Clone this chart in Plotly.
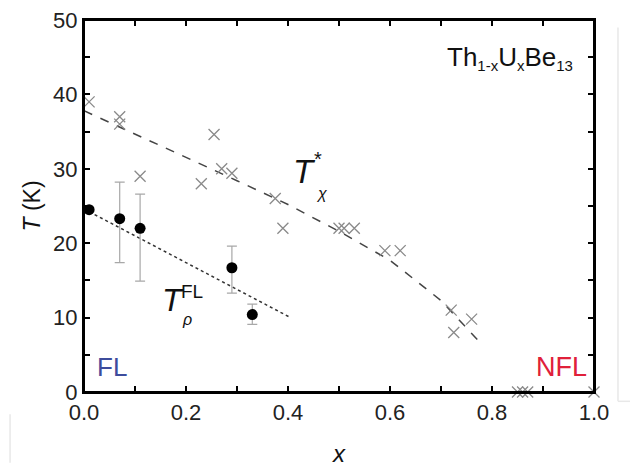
import plotly.graph_objects as go

# T_chi* data (crosses)
x_chi = [0.01, 0.07, 0.07, 0.11, 0.23, 0.255, 0.27, 0.29, 0.375, 0.39,
         0.50, 0.51, 0.53, 0.59, 0.62, 0.72, 0.725, 0.76,
         0.85, 0.86, 0.87, 1.0]
T_chi = [39.0, 37.0, 36.0, 29.0, 28.0, 34.6, 30.0, 29.4, 26.0, 22.0,
         22.0, 22.0, 22.0, 19.0, 19.0, 11.0, 8.0, 9.8,
         0.0, 0.0, 0.0, 0.0]

# T_rho^FL data (filled circles with error bars)
x_rho = [0.01, 0.07, 0.11, 0.29, 0.33]
T_rho = [24.5, 23.3, 22.0, 16.7, 10.4]
err_plus = [0.0, 4.9, 4.6, 2.9, 1.4]
err_minus = [0.0, 5.9, 7.1, 3.4, 1.3]

# guide lines
x_chi_line = [0.0, 0.1, 0.2, 0.3, 0.4, 0.5, 0.6, 0.7, 0.78]
T_chi_line = [37.8, 34.7, 31.6, 28.4, 25.2, 21.6, 17.7, 12.3, 6.4]
x_rho_line = [0.0, 0.405]
T_rho_line = [24.6, 10.0]

# tick marks (every minor step) and their labels
x_tickvals = [0.0, 0.1, 0.2, 0.3, 0.4, 0.5, 0.6, 0.7, 0.8, 0.9, 1.0]
x_ticktext = ["0.0", "", "0.2", "", "0.4", "", "0.6", "", "0.8", "", "1.0"]
y_tickvals = [0, 5, 10, 15, 20, 25, 30, 35, 40, 45, 50]
y_ticktext = ["0", "", "10", "", "20", "", "30", "", "40", "", "50"]

FONT = "Liberation Sans, Arial, sans-serif"

fig = go.Figure()

fig.add_trace(go.Scatter(x=x_chi_line, y=T_chi_line, mode="lines",
                         line=dict(color="#444", width=1.5, dash="dash"),
                         showlegend=False, hoverinfo="skip"))
fig.add_trace(go.Scatter(x=x_rho_line, y=T_rho_line, mode="lines",
                         line=dict(color="#333", width=1.5, dash="dot"),
                         showlegend=False, hoverinfo="skip"))

fig.add_trace(go.Scatter(x=x_chi, y=T_chi, mode="markers",
                         marker=dict(symbol="x-thin", size=11,
                                     line=dict(color="#8a8a8a", width=1.3)),
                         cliponaxis=False, showlegend=False))

fig.add_trace(go.Scatter(x=x_rho, y=T_rho, mode="markers",
                         marker=dict(symbol="circle", size=11, color="black"),
                         error_y=dict(type="data", symmetric=False,
                                      array=err_plus, arrayminus=err_minus,
                                      color="#a8a8a8", thickness=1.2, width=5),
                         cliponaxis=False, showlegend=False))

def ann(x, y, text, size, color="#111", xanchor="center"):
    return dict(x=x, y=y, xref="x", yref="y", xanchor=xanchor, yanchor="middle",
                text=text, font=dict(size=size, color=color, family=FONT),
                showarrow=False)

SUB = '<sub><span style="font-size:15px">{}</span></sub>'
formula = "Th" + SUB.format("1-x") + "U" + SUB.format("x") + "Be" + SUB.format("13")

annotations = [
    ann(0.963, 44.9, formula, 26, xanchor="right"),
    ann(0.433, 29.6, "<i>T</i>", 33),
    ann(0.458, 31.3, "*", 20),
    ann(0.465, 26.7, "<i>χ</i>", 16),
    ann(0.174, 12.3, "<i>T</i>", 32),
    ann(0.212, 13.5, "FL", 19),
    ann(0.202, 9.7, "<i>ρ</i>", 16),
    ann(0.022, 3.4, "FL", 26, color="#3d4c9c", xanchor="left"),
    ann(0.99, 3.4, "NFL", 27, color="#e0203a", xanchor="right"),
]

axis_common = dict(showline=True, linecolor="black", linewidth=2, mirror="allticks",
                   ticks="inside", tickcolor="black", tickwidth=2, ticklen=6,
                   showgrid=False, zeroline=False, automargin=False,
                   ticklabeloverflow="allow",
                   tickfont=dict(size=22, color="#222", family=FONT))

fig.update_layout(
    xaxis=dict(range=[0, 1.0], tickmode="array", tickvals=x_tickvals, ticktext=x_ticktext,
               title=dict(text="<i>x</i>", font=dict(size=24, color="#111", family=FONT),
                          standoff=21),
               **axis_common),
    yaxis=dict(range=[0, 50], tickmode="array", tickvals=y_tickvals, ticktext=y_ticktext,
               title=dict(text="<i>T</i> (K)", font=dict(size=23, color="#111", family=FONT),
                          standoff=6),
               **axis_common),
)

shapes = [
    # plot frame
    dict(type="rect", xref="paper", yref="paper", x0=0, x1=1, y0=0, y1=1,
         line=dict(color="black", width=2), layer="above"),
    dict(type="line", xref="paper", yref="paper", x0=1.047, x1=1.047, y0=0.98, y1=-0.025,
         line=dict(color="#e8e8e8", width=1.5)),
    dict(type="line", xref="paper", yref="paper", x0=1.047, x1=1.09, y0=-0.025, y1=-0.025,
         line=dict(color="#e8e8e8", width=1.5)),
    dict(type="line", xref="paper", yref="paper", x0=-0.145, x1=-0.145, y0=-0.06, y1=-0.19,
         line=dict(color="#e8e8e8", width=1.5)),
]

# the page body adds an 8 px offset; margins compensate for it
fig.update_layout(width=638, height=466,
                  margin=dict(l=76, r=52, t=12, b=82),
                  plot_bgcolor="white", paper_bgcolor="white",
                  annotations=annotations, shapes=shapes,
                  font=dict(family=FONT))

fig.write_html("out.html")
